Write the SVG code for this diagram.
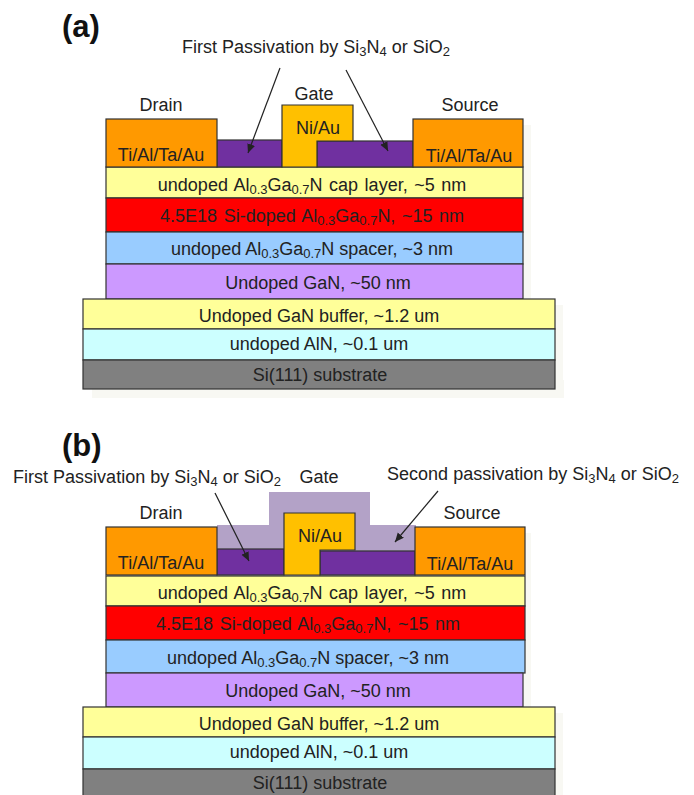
<svg xmlns="http://www.w3.org/2000/svg" width="694" height="795" viewBox="0 0 694 795">
<style>
text{font-family:"Liberation Sans",Arial,sans-serif;font-size:18px;fill:#222;text-anchor:middle}
tspan.u{font-size:13px}
.w{word-spacing:1.5px}
.h{font-size:31px;font-weight:bold;fill:#111;text-anchor:start}
.l{stroke:#333;stroke-width:1.2}
.m{fill:#ff9900}.g{fill:#ffc000}.p{fill:#7030a0}.c{fill:#ffff99}.r{fill:#ff0000}.b{fill:#99ccff}.v{fill:#cc99ff}.a{fill:#ccffff}.s{fill:#808080}.q{fill:#b3a2c7}
.sh{fill:#f8f8f3}
.k{stroke:#222;stroke-width:1.2;fill:none;marker-end:url(#ah)}
</style>
<defs><marker id="ah" markerUnits="userSpaceOnUse" markerWidth="10" markerHeight="10" refX="9" refY="4" orient="auto"><path d="M0 0L9 4L0 8Z" fill="#222"/></marker></defs>
<rect width="694" height="795" fill="#fff"/>
<g id="shadow">
<rect class="sh" x="92" y="380" width="472" height="18"/><rect class="sh" x="523" y="125" width="8" height="174"/><rect class="sh" x="555" y="305" width="8" height="93"/>
<rect class="sh" x="523" y="533" width="8" height="175"/><rect class="sh" x="555" y="713" width="8" height="82"/>
</g>
<text class="h" x="62" y="37">(a)</text>
<text class="h" x="62" y="456">(b)</text>
<g id="a-layers">
<g id="a-cap"><rect class="c l" x="106" y="167" width="417" height="31"/><text class="w" x="312" y="191">undoped Al<tspan class="u" dy="3">0.3</tspan><tspan dy="-3">Ga</tspan><tspan class="u" dy="3">0.7</tspan><tspan dy="-3">N  cap layer, ~5 nm</tspan></text></g>
<g id="a-doped"><rect class="r l" x="106" y="198" width="417" height="34"/><text class="w" x="312" y="222">4.5E18 Si-doped Al<tspan class="u" dy="3">0.3</tspan><tspan dy="-3">Ga</tspan><tspan class="u" dy="3">0.7</tspan><tspan dy="-3">N, ~15 nm</tspan></text></g>
<g id="a-spacer"><rect class="b l" x="106" y="232" width="417" height="32"/><text x="312" y="255">undoped Al<tspan class="u" dy="3">0.3</tspan><tspan dy="-3">Ga</tspan><tspan class="u" dy="3">0.7</tspan><tspan dy="-3">N spacer, ~3 nm</tspan></text></g>
<g id="a-gan"><rect class="v l" x="106" y="264" width="417" height="35"/><text x="318" y="289">Undoped GaN, ~50 nm</text></g>
<g id="a-buffer"><rect class="c l" x="83" y="299" width="472" height="30"/><text x="319" y="322">Undoped GaN buffer, ~1.2 um</text></g>
<g id="a-aln"><rect class="a l" x="83" y="329" width="472" height="31"/><text x="319" y="350">undoped AlN, ~0.1 um</text></g>
<g id="a-si"><rect class="s l" x="83" y="360" width="472" height="29"/><text x="320" y="381">Si(111) substrate</text></g>
</g>
<g id="a-devices">
<g id="a-pass-left"><rect class="p l" x="217" y="140" width="65" height="27"/></g>
<g id="a-pass-right"><rect class="p l" x="317" y="141" width="96" height="26"/></g>
<g id="a-gate"><path class="g l" d="M282 167V105H353V141H317V167Z"/><text x="318" y="134">Ni/Au</text><text x="314" y="100">Gate</text></g>
<g id="a-drain"><rect class="m l" x="106" y="119" width="111" height="48"/><text x="161" y="161">Ti/Al/Ta/Au</text><text x="161" y="111">Drain</text></g>
<g id="a-source"><rect class="m l" x="413" y="119" width="110" height="48"/><text x="469" y="162">Ti/Al/Ta/Au</text><text x="470" y="111">Source</text></g>
</g>
<text id="a-label" x="316" y="53">First Passivation by Si<tspan class="u" dy="3">3</tspan><tspan dy="-3">N</tspan><tspan class="u" dy="3">4</tspan><tspan dy="-3"> or SiO</tspan><tspan class="u" dy="3">2</tspan></text>
<g id="b-layers">
<g id="b-cap"><rect class="c l" x="106" y="576" width="419" height="30"/><text class="w" x="312" y="599">undoped Al<tspan class="u" dy="3">0.3</tspan><tspan dy="-3">Ga</tspan><tspan class="u" dy="3">0.7</tspan><tspan dy="-3">N  cap layer, ~5 nm</tspan></text></g>
<g id="b-doped"><rect class="r l" x="106" y="606" width="419" height="34"/><text class="w" x="308" y="630">4.5E18 Si-doped Al<tspan class="u" dy="3">0.3</tspan><tspan dy="-3">Ga</tspan><tspan class="u" dy="3">0.7</tspan><tspan dy="-3">N, ~15 nm</tspan></text></g>
<g id="b-spacer"><rect class="b l" x="106" y="640" width="419" height="33"/><text x="308" y="664">undoped Al<tspan class="u" dy="3">0.3</tspan><tspan dy="-3">Ga</tspan><tspan class="u" dy="3">0.7</tspan><tspan dy="-3">N spacer, ~3 nm</tspan></text></g>
<g id="b-gan"><rect class="v l" x="106" y="673" width="417" height="34"/><text x="318" y="697">Undoped GaN, ~50 nm</text></g>
<g id="b-buffer"><rect class="c l" x="83" y="707" width="472" height="30"/><text x="319" y="730">Undoped GaN buffer, ~1.2 um</text></g>
<g id="b-aln"><rect class="a l" x="83" y="737" width="472" height="32"/><text x="319" y="758">undoped AlN, ~0.1 um</text></g>
<g id="b-si"><rect class="s l" x="83" y="769" width="472" height="27"/><text x="320" y="789">Si(111) substrate</text></g>
</g>
<g id="b-devices">
<g id="b-second-pass"><path class="q" d="M217 525H269V492H370V525H416V551H217Z"/><text x="319" y="483">Gate</text></g>
<g id="b-pass-left"><rect class="p l" x="217" y="549" width="67" height="26"/></g>
<g id="b-pass-right"><rect class="p l" x="320" y="551" width="95" height="24"/></g>
<g id="b-gate"><path class="g l" d="M284 575V513H355V550H320V575Z"/><text x="320" y="542">Ni/Au</text></g>
<g id="b-drain"><rect class="m l" x="106" y="527" width="111" height="48"/><text x="161" y="569">Ti/Al/Ta/Au</text><text x="161" y="519">Drain</text></g>
<g id="b-source"><rect class="m l" x="415" y="527" width="110" height="48"/><text x="470" y="570">Ti/Al/Ta/Au</text><text x="472" y="519">Source</text></g>
</g>
<text id="b-label-first" x="147" y="483">First Passivation by Si<tspan class="u" dy="3">3</tspan><tspan dy="-3">N</tspan><tspan class="u" dy="3">4</tspan><tspan dy="-3"> or SiO</tspan><tspan class="u" dy="3">2</tspan></text>
<text id="b-label-second" x="533" y="480">Second passivation by Si<tspan class="u" dy="3">3</tspan><tspan dy="-3">N</tspan><tspan class="u" dy="3">4</tspan><tspan dy="-3"> or SiO</tspan><tspan class="u" dy="3">2</tspan></text>
<g id="connectors">
<path class="k" d="M280 68L248 153"/>
<path class="k" d="M346 70L388 151"/>
<path class="k" d="M215 493L249 561"/>
<path class="k" d="M438 491L395 542"/>
</g>
</svg>
